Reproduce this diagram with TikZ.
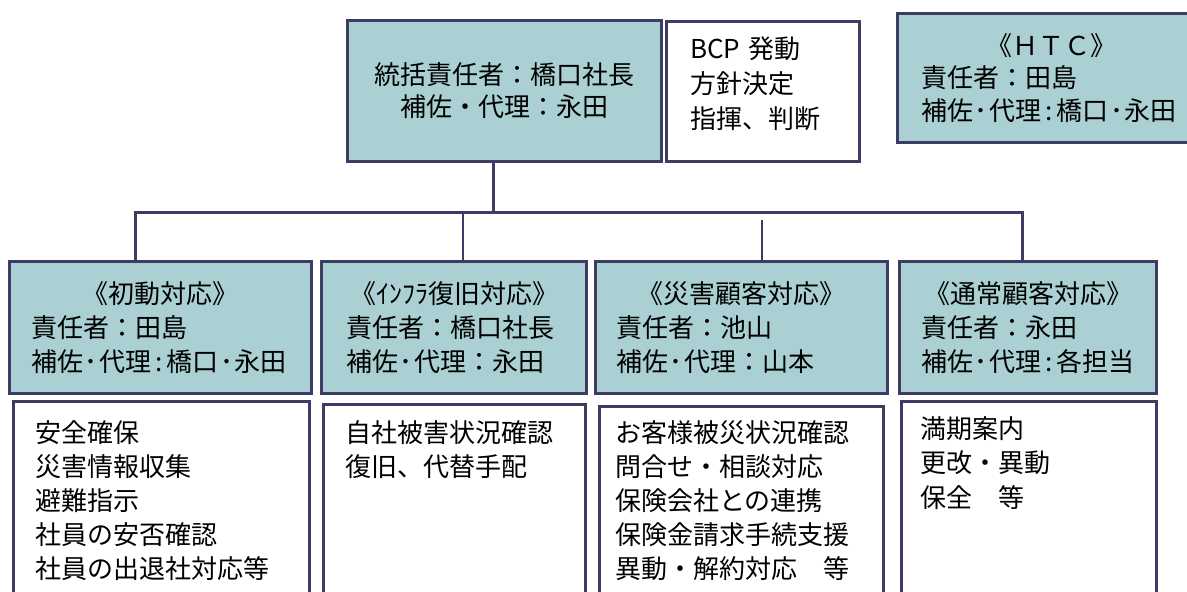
\documentclass[tikz,border=0pt]{standalone}
\usepackage{fontspec}
\setmainfont{Noto Sans CJK JP}
\definecolor{tealfill}{RGB}{170,208,212}
\definecolor{bordc}{RGB}{60,60,100}
\newcommand\hcolon{\makebox[0.6em]{:}}
\newcommand\hdot{\makebox[0.6em]{･}}
\begin{document}
\begin{tikzpicture}[x=1pt,y=-1pt,
  box/.style={draw=bordc, line width=3pt, inner sep=0pt, anchor=north west},
  tealbox/.style={box, fill=tealfill},
  whitebox/.style={box, fill=white},
  lbl/.style={inner sep=0pt, anchor=base west, align=left, text width=280pt},
  conn/.style={draw=bordc, line width=3pt},
  thinconn/.style={draw=bordc, line width=1.2pt},
  font=\fontsize{26}{34}\selectfont
]
\useasboundingbox (0,0) rectangle (1187,592);
\clip (0,0) rectangle (1187,592);

% top row
\node[tealbox, minimum width=314pt, minimum height=141pt, align=center,
      font=\fontsize{26}{32}\selectfont] (top) at (346,19)
  {統括責任者：橋口社長\\補佐・代理：永田};
\node[whitebox, minimum width=193pt, minimum height=140pt] (bcp) at (665,20) {};
\node[lbl, font=\fontsize{26}{35}\selectfont] (bcptext) at (690,58)
  {BCP 発動\\方針決定\\指揮、判断};
\node[tealbox, minimum width=308pt, minimum height=129pt, text width=260pt, align=left,
      font=\fontsize{26}{32.5}\selectfont] (htc) at (896,12)
  {\makebox[\hsize]{《ＨＴＣ》}\\責任者：田島\\補佐\hdot 代理\hcolon 橋口\hdot 永田};

% second row
\node[tealbox, minimum width=302pt, minimum height=132pt, text width=258pt, align=left] (b1) at (8,260)
  {\makebox[\hsize]{《初動対応》}\\責任者：田島\\補佐\hdot 代理\hcolon 橋口\hdot 永田};
\node[tealbox, minimum width=265pt, minimum height=132pt, text width=215pt, align=left] (b2) at (320,260)
  {\makebox[\hsize]{《ｲﾝﾌﾗ復旧対応》}\\責任者：橋口社長\\補佐\hdot 代理：永田};
\node[tealbox, minimum width=292pt, minimum height=132pt, text width=250pt, align=left] (b3) at (594,260)
  {\makebox[\hsize]{《災害顧客対応》}\\責任者：池山\\補佐\hdot 代理：山本};
\node[tealbox, minimum width=257pt, minimum height=132pt, text width=213pt, align=left] (b4) at (898,260)
  {\makebox[\hsize]{《通常顧客対応》}\\責任者：永田\\補佐\hdot 代理\hcolon 各担当};

% third row
\node[whitebox, minimum width=296pt, minimum height=220pt] (w1) at (12,400) {};
\node[whitebox, minimum width=262pt, minimum height=220pt] (w2) at (322,403) {};
\node[whitebox, minimum width=284pt, minimum height=220pt] (w3) at (598,405) {};
\node[whitebox, minimum width=255pt, minimum height=220pt] (w4) at (900,400) {};

\node[lbl] (t1) at (35,442) {安全確保\\災害情報収集\\避難指示\\社員の安否確認\\社員の出退社対応等};
\node[lbl] (t2) at (345,442) {自社被害状況確認\\復旧、代替手配};
\node[lbl] (t3) at (615,442) {お客様被災状況確認\\問合せ・相談対応\\保険会社との連携\\保険金請求手続支援\\異動・解約対応\quad 等};
\node[lbl, font=\fontsize{26}{34.5}\selectfont] (t4) at (920,438) {満期案内\\更改・異動\\保全\quad 等};

% connectors
\coordinate (j) at (493,212);
\coordinate (hl) at (135,212);
\coordinate (hr) at (1022,212);
\coordinate (c2) at (463,212);
\coordinate (c3) at (762,220);
\draw[conn] (top.south -| j) -- (j);
\draw[conn, line join=miter] (b1.north -| hl) -- (hl) -- (hr) -- (b4.north -| hr);
\draw[thinconn] (c2) -- (b2.north -| c2);
\draw[thinconn] (c3) -- (b3.north -| c3);
\end{tikzpicture}
\end{document}
